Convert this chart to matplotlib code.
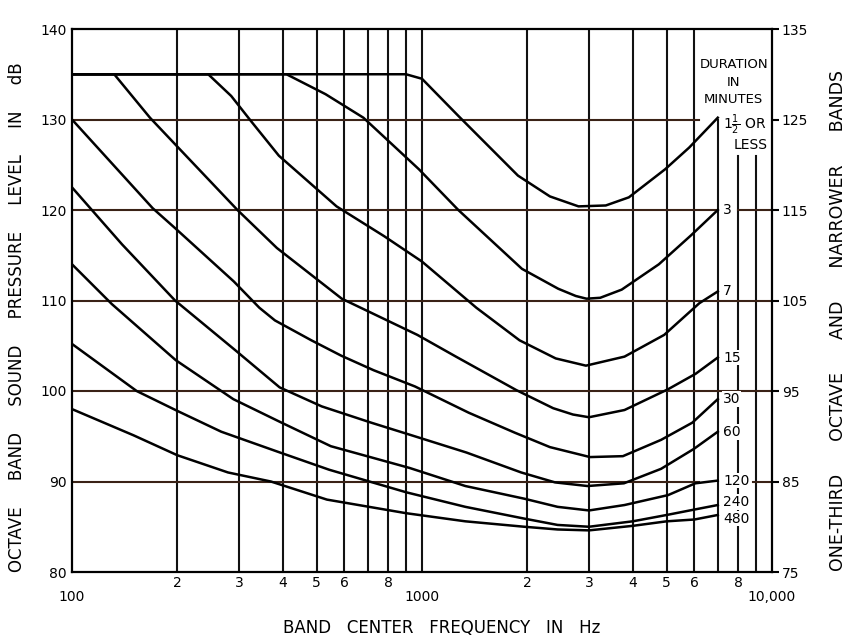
import matplotlib
matplotlib.use("Agg")
import matplotlib.pyplot as plt

# damage risk contours (Hz, dB octave band SPL)
freq_1_5 = [100, 900, 1000, 1270, 1880, 2320, 2800, 3350, 3900, 4950, 5800, 7000]
spl_1_5 = [135, 135, 134.5, 130.4, 123.8, 121.5, 120.4, 120.5, 121.4, 124.5, 126.9, 130.2]

freq_3 = [100, 410, 530, 680, 980, 1270, 1930, 2450, 2750, 2950, 3230, 3720, 4750, 5870, 7000]
spl_3 = [135, 135, 132.8, 130.2, 124.5, 120.0, 113.5, 111.3, 110.5, 110.2, 110.3, 111.2, 114.0, 117.2, 120.0]

freq_7 = [100, 245, 285, 325, 390, 570, 780, 1000, 1430, 1900, 2410, 2940, 3790, 4920, 6200, 7000]
spl_7 = [135, 135, 132.6, 129.8, 126.0, 120.4, 117.1, 114.3, 109.2, 105.6, 103.6, 102.8, 103.8, 106.2, 109.7, 111.0]

freq_15 = [100, 132, 167, 200, 297, 385, 590, 970, 1250, 1860, 2370, 2700, 3000, 3790, 5050, 6050, 7000]
spl_15 = [135, 135, 130.2, 127.0, 120.0, 115.8, 110.2, 106.2, 103.8, 100.1, 98.1, 97.4, 97.1, 97.9, 100.2, 101.9, 103.7]

freq_30 = [100, 170, 197, 290, 343, 380, 483, 588, 727, 955, 1360, 1840, 2320, 3020, 3750, 4820, 5920, 7000]
spl_30 = [130, 120.2, 118.0, 112.1, 109.2, 107.8, 105.6, 103.9, 102.3, 100.5, 97.6, 95.4, 93.8, 92.7, 92.8, 94.6, 96.5, 99.1]

freq_60 = [100, 139, 197, 295, 392, 517, 716, 935, 1340, 1920, 2400, 2970, 3775, 4820, 5980, 7000]
spl_60 = [122.5, 116.2, 110.0, 104.4, 100.4, 98.3, 96.5, 95.1, 93.2, 91.0, 89.9, 89.5, 89.8, 91.4, 93.6, 95.5]

freq_120 = [100, 130, 198, 289, 397, 549, 921, 1330, 1960, 2440, 3000, 3790, 5050, 6040, 7000]
spl_120 = [114.0, 109.6, 103.4, 99.1, 96.5, 93.9, 91.5, 89.5, 88.1, 87.2, 86.8, 87.4, 88.5, 89.8, 90.1]

freq_240 = [100, 153, 200, 267, 393, 543, 903, 1330, 1960, 2440, 3000, 4000, 5000, 6000, 7000]
spl_240 = [105.2, 100.0, 97.8, 95.5, 93.2, 91.3, 88.8, 87.2, 85.9, 85.2, 85.0, 85.6, 86.3, 86.9, 87.4]

freq_480 = [100, 150, 200, 279, 370, 535, 900, 1330, 1960, 2440, 3000, 4000, 5000, 6000, 7000]
spl_480 = [98.0, 95.1, 92.9, 91.0, 90.0, 88.0, 86.5, 85.6, 85.0, 84.7, 84.6, 85.1, 85.6, 85.8, 86.3]

left_ticks = [80, 90, 100, 110, 120, 130, 140]
right_ticks = [75, 85, 95, 105, 115, 125, 135]
major_freqs = [100, 1000, 10000]
major_labels = ["100", "1000", "10,000"]
minor_freqs = [200, 300, 400, 500, 600, 700, 800, 900,
               2000, 3000, 4000, 5000, 6000, 7000, 8000, 9000]
minor_labels = ["2", "3", "4", "5", "6", "", "8", "",
                "2", "3", "4", "5", "6", "", "8", ""]

curves = [
    ("1.5", freq_1_5, spl_1_5),
    ("3", freq_3, spl_3),
    ("7", freq_7, spl_7),
    ("15", freq_15, spl_15),
    ("30", freq_30, spl_30),
    ("60", freq_60, spl_60),
    ("120", freq_120, spl_120),
    ("240", freq_240, spl_240),
    ("480", freq_480, spl_480),
]

plt.rcParams['font.family'] = ['DejaVu Sans']

fig = plt.figure(figsize=(8.48, 6.41), dpi=100)
ax = fig.add_axes([72 / 848, 69 / 641, 700 / 848, 543 / 641])
ax.set_xscale('log')
ax.set_xlim(100, 10000)
ax.set_ylim(80, 140)

vcol = '#111111'
hcol = '#3a2216'
glw = 1.5

# vertical grid lines
for f in [200, 300, 400, 500, 600, 700, 800, 900, 1000, 2000, 3000, 4000, 5000, 6000]:
    ax.plot([f, f], [80, 140], color=vcol, lw=glw, zorder=1)
ax.plot([7000, 7000], [80, 130], color=vcol, lw=glw, zorder=1)
ax.plot([8000, 8000], [80, 126], color=vcol, lw=glw, zorder=1)
ax.plot([9000, 9000], [80, 126], color=vcol, lw=glw, zorder=1)

# horizontal grid lines (some broken where the labels sit)
ax.plot([100, 10000], [100, 100], color=hcol, lw=glw, zorder=1)
ax.plot([100, 10000], [110, 110], color=hcol, lw=glw, zorder=1)
ax.plot([100, 6200], [130, 130], color=hcol, lw=glw, zorder=1)
ax.plot([100, 7000], [120, 120], color=hcol, lw=glw, zorder=1)
ax.plot([8000, 10000], [120, 120], color=hcol, lw=glw, zorder=1)
ax.plot([100, 6200], [90, 90], color=hcol, lw=glw, zorder=1)
ax.plot([8800, 10000], [90, 90], color=hcol, lw=glw, zorder=1)

for name, f, s in curves:
    ax.plot(f, s, color='black', lw=1.8, zorder=3, solid_joinstyle='round')

# curve labels at the right ends
for name, f, s in curves[1:]:
    y = s[-1]
    if name == "240":
        y += 0.3
    if name == "480":
        y -= 0.4
    ax.text(7250, y, name, ha='left', va='center', fontsize=10, zorder=4,
            bbox=dict(fc='white', ec='none', pad=0.6))

ax.text(7250, 129.4, r"1$\frac{1}{2}$ OR", ha='left', va='center', fontsize=10, zorder=4)
ax.text(8700, 127.2, "LESS", ha='center', va='center', fontsize=10, zorder=4)
ax.text(7780, 136.1, "DURATION", ha='center', va='center', fontsize=9.5, zorder=4)
ax.text(7780, 134.1, "IN", ha='center', va='center', fontsize=9.5, zorder=4)
ax.text(7780, 132.2, "MINUTES", ha='center', va='center', fontsize=9.5, zorder=4)

for sp in ax.spines.values():
    sp.set_linewidth(1.6)
    sp.set_color('black')

ax.set_xticks(major_freqs)
ax.set_xticklabels(major_labels)
ax.set_xticks(minor_freqs, minor=True)
ax.set_xticklabels(minor_labels, minor=True)
ax.tick_params(axis='x', which='major', length=0, pad=13, labelsize=10)
ax.tick_params(axis='x', which='minor', length=0, pad=3, labelsize=10)
ax.set_yticks(left_ticks)
ax.tick_params(axis='y', length=0, pad=4, labelsize=10)

ax2 = ax.twinx()
ax2.set_ylim(75, 135)
ax2.set_yticks(right_ticks)
ax2.tick_params(axis='y', direction='out', length=5, width=1.5, pad=2, labelsize=10)
for sp in ax2.spines.values():
    sp.set_visible(False)

fig.text(17 / 848, 0.505, "OCTAVE     BAND     SOUND     PRESSURE     LEVEL     IN     dB",
         rotation=90, ha='center', va='center', fontsize=12)
fig.text(838 / 848, 0.50, "ONE-THIRD      OCTAVE      AND      NARROWER      BANDS",
         rotation=90, ha='center', va='center', fontsize=12.5)
fig.text(442 / 848, 0.02, "BAND   CENTER   FREQUENCY   IN   Hz",
         ha='center', va='center', fontsize=12)

fig.savefig("out.png", dpi=100, facecolor='white')
